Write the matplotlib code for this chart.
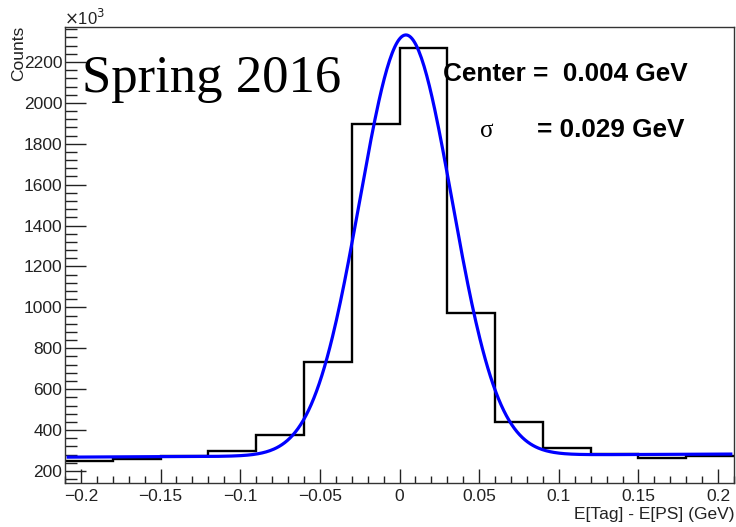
import numpy as np
import matplotlib
matplotlib.use("Agg")
import matplotlib.pyplot as plt
from matplotlib.ticker import MultipleLocator

# ---- data ----
bin_edges = [-0.21, -0.18, -0.15, -0.12, -0.09, -0.06, -0.03, 0.0,
             0.03, 0.06, 0.09, 0.12, 0.15, 0.18, 0.21]
bin_counts = [249, 258, 272, 298, 376, 733, 1897, 2268,
              973, 440, 312, 282, 264, 273]          # x10^3
fit_center = 0.004
fit_sigma = 0.029
fit_amp = 2057
fit_bg = 275
fit_bg_slope = 36
x_ticks = [-0.2, -0.15, -0.1, -0.05, 0, 0.05, 0.1, 0.15, 0.2]
x_tick_labels = ["\u22120.2", "\u22120.15", "\u22120.1", "\u22120.05", "0",
                 "0.05", "0.1", "0.15", "0.2"]
y_ticks = [200, 400, 600, 800, 1000, 1200, 1400, 1600, 1800, 2000, 2200]

W, H = 736, 527
fig = plt.figure(figsize=(W / 100, H / 100), dpi=100)
L, R, T, B = 65, 734, 27, 483
ax = fig.add_axes([L / W, 1 - B / H, (R - L) / W, (B - T) / H])

ax.stairs(bin_counts, bin_edges, baseline=None, color="black", lw=1.7, zorder=2)

xf = np.linspace(bin_edges[0] + 0.002, bin_edges[-1] - 0.002, 500)
yf = fit_bg + fit_bg_slope * xf + fit_amp * np.exp(-0.5 * ((xf - fit_center) / fit_sigma) ** 2)
ax.plot(xf, yf, color="#0000ff", lw=2.3, zorder=3)

ax.set_xlim(-0.21, 0.21)
ax.set_ylim(141, 2371)

sans = "Liberation Sans"
tfs = 12.5
ax.set_xticks(x_ticks)
ax.set_xticklabels(x_tick_labels, fontfamily=sans, fontsize=tfs)
ax.set_yticks(y_ticks)
ax.set_yticklabels([str(v) for v in y_ticks], fontfamily=sans, fontsize=tfs)
ax.xaxis.set_minor_locator(MultipleLocator(0.01))
ax.yaxis.set_minor_locator(MultipleLocator(40))
ax.tick_params(axis="y", which="major", direction="in", length=15, width=1, pad=2, colors="#222222")
ax.tick_params(axis="y", which="minor", direction="in", length=8.5, width=1, colors="#222222")
ax.tick_params(axis="x", which="major", direction="in", length=10, width=1, pad=4, colors="#222222")
ax.tick_params(axis="x", which="minor", direction="in", length=5, width=1, colors="#222222")
for s in ax.spines.values():
    s.set_linewidth(1)
    s.set_color("#333333")

def fx(px):
    return px / W

def fy(py):
    return 1 - py / H

fig.text(fx(734), fy(515), "E[Tag] - E[PS] (GeV)", ha="right", va="center",
         fontfamily=sans, fontsize=tfs, color="#222222")
fig.text(fx(19), fy(26), "Counts", rotation=90, ha="center", va="top",
         fontfamily=sans, fontsize=tfs, color="#222222")
fig.text(fx(64), fy(18), r"$\times$10$^{3}$", ha="left", va="center",
         fontfamily=sans, fontsize=12, color="#222222")

fig.text(fx(82), fy(79), "Spring 2016", ha="left", va="center",
         fontfamily="Liberation Serif", fontsize=38, color="black")
fig.text(fx(443), fy(74), "Center =  0.004 GeV", ha="left", va="center",
         fontfamily=sans, fontweight="bold", fontsize=18.8, color="black")
fig.text(fx(487), fy(131), "\u03c3", ha="center", va="center",
         fontfamily="Liberation Serif", fontsize=18, color="black")
fig.text(fx(537), fy(130), "= 0.029 GeV", ha="left", va="center",
         fontfamily=sans, fontweight="bold", fontsize=18.8, color="black")

fig.savefig("out.png", dpi=100)
